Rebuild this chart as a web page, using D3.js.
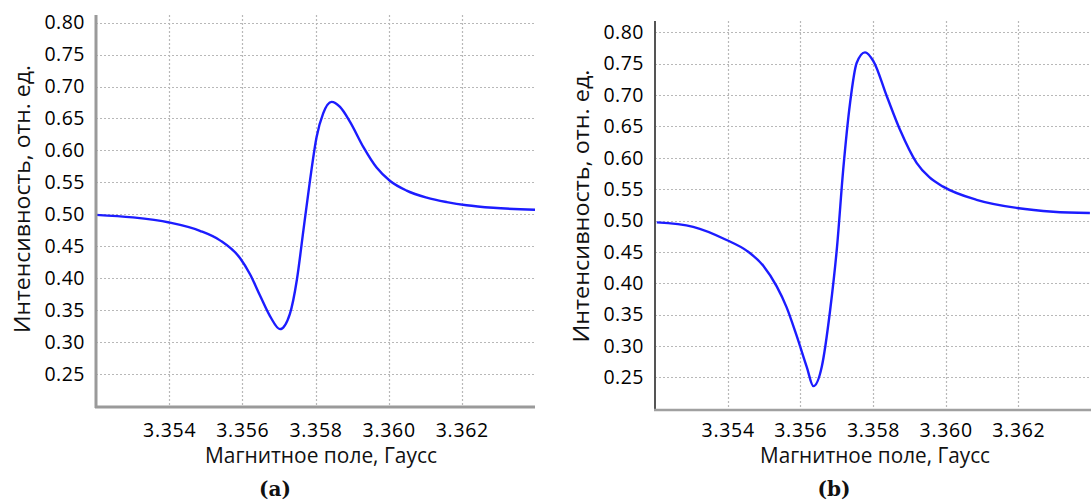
<!DOCTYPE html>
<html>
<head>
<meta charset="utf-8">
<script src="https://cdn.jsdelivr.net/npm/d3@7"></script>
<style>
  html, body { margin: 0; padding: 0; background: #fff; }
  svg { display: block; }
</style>
</head>
<body>
<svg id="chart" width="1091" height="502"></svg>
<script>
// ---- data ----
const xTicks = [3.354, 3.356, 3.358, 3.360, 3.362];
const yTicks = [0.25, 0.30, 0.35, 0.40, 0.45, 0.50, 0.55, 0.60, 0.65, 0.70, 0.75, 0.80];
const xLabel = "Магнитное поле, Гаусс";
const yLabel = "Интенсивность, отн. ед.";
const panelLabels = ["(a)", "(b)"];

const fieldA = [3.3520, 3.3530, 3.3540, 3.35484, 3.35539, 3.35594, 3.35621, 3.35648, 3.35676, 3.35703,
                3.35730, 3.35749, 3.35767, 3.35785, 3.35803, 3.35821, 3.35844, 3.35867, 3.35894, 3.35931,
                3.35967, 3.36004, 3.36049, 3.36104, 3.36159, 3.36213, 3.36286, 3.3640];
const intensityA = [0.499, 0.495, 0.487, 0.474, 0.459, 0.431, 0.406, 0.373, 0.340, 0.320,
                    0.344, 0.397, 0.475, 0.553, 0.621, 0.658, 0.676, 0.668, 0.645, 0.605,
                    0.573, 0.552, 0.537, 0.526, 0.519, 0.514, 0.510, 0.507];

const fieldB = [3.35205, 3.35305, 3.35397, 3.35452, 3.35498, 3.35535, 3.35562, 3.35590, 3.35618, 3.35636,
                3.35659, 3.35682, 3.35701, 3.35718, 3.35737, 3.35755, 3.35778, 3.35801, 3.35838, 3.35874,
                3.35920, 3.35955, 3.35993, 3.36085, 3.36196, 3.36296, 3.36397];
const intensityB = [0.497, 0.490, 0.469, 0.452, 0.428, 0.395, 0.362, 0.316, 0.266, 0.236,
                    0.267, 0.357, 0.458, 0.581, 0.688, 0.751, 0.768, 0.754, 0.698, 0.645,
                    0.592, 0.569, 0.554, 0.533, 0.520, 0.514, 0.512];

// ---- layout ----
const panels = [
  { field: fieldA, intensity: intensityA, label: panelLabels[0],
    x0: 96, x1: 535, yTop: 15, yBot: 407, yDom: [0.198, 0.812],
    yAxisColor: "#9a9a9a", yAxisWidth: 3, xAxisColor: "#9a9a9a", xAxisWidth: 3,
    yTitleCx: 199, yTitleBase: 29.5, yTitleLen: 268, xTitleCx: 321, xTitleLen: 232, labelCx: 275 },
  { field: fieldB, intensity: intensityB, label: panelLabels[1],
    x0: 655, x1: 1091, yTop: 21, yBot: 410, yDom: [0.198, 0.818],
    yAxisColor: "#555", yAxisWidth: 2, xAxisColor: "#a0a0a0", xAxisWidth: 2.5,
    yTitleCx: 206, yTitleBase: 589, yTitleLen: 273, xTitleCx: 875, xTitleLen: 230, labelCx: 834 }
];

const svg = d3.select("#chart");

panels.forEach(p => {
  const x = d3.scaleLinear().domain([3.352, 3.364]).range([p.x0, p.x1]);
  const y = d3.scaleLinear().domain(p.yDom).range([p.yBot, p.yTop]);
  const g = svg.append("g");

  // grid
  g.append("g").selectAll("line").data(yTicks).join("line")
    .attr("x1", p.x0).attr("x2", p.x1)
    .attr("y1", d => Math.round(y(d)) + 0.5).attr("y2", d => Math.round(y(d)) + 0.5)
    .attr("stroke", "#b8b8b8").attr("stroke-width", 1.2).attr("stroke-dasharray", "2,2");
  g.append("g").selectAll("line").data(xTicks).join("line")
    .attr("x1", d => Math.round(x(d)) + 0.5).attr("x2", d => Math.round(x(d)) + 0.5)
    .attr("y1", p.yTop).attr("y2", p.yBot)
    .attr("stroke", "#b8b8b8").attr("stroke-width", 1.2).attr("stroke-dasharray", "2,2");

  // curve
  const data = p.field.map((f, i) => [f, p.intensity[i]]);
  g.append("path").datum(data)
    .attr("fill", "none").attr("stroke", "#1c1cff").attr("stroke-width", 2.4)
    .attr("stroke-linejoin", "round")
    .attr("d", d3.line().x(d => x(d[0])).y(d => y(d[1])).curve(d3.curveMonotoneX));

  // y axis
  const ya = g.append("g").attr("transform", `translate(${p.x0},0)`)
    .call(d3.axisLeft(y).tickValues(yTicks).tickFormat(d3.format(".2f")).tickSize(0).tickPadding(11));
  ya.select(".domain").remove();
  ya.selectAll("text").attr("font-size", 19.5).attr("font-family", "Open Sans").attr("letter-spacing", "0.5px").attr("fill", "#000");
  g.append("line").attr("x1", p.x0).attr("x2", p.x0).attr("y1", p.yTop).attr("y2", p.yBot + 1)
    .attr("stroke", p.yAxisColor).attr("stroke-width", p.yAxisWidth);

  // x axis
  const xa = g.append("g").attr("transform", `translate(0,${p.yBot})`)
    .call(d3.axisBottom(x).tickValues(xTicks).tickFormat(d3.format(".3f")).tickSize(0).tickPadding(423 - p.yBot));
  xa.select(".domain").remove();
  xa.selectAll("text").attr("font-size", 19.5).attr("font-family", "Open Sans").attr("letter-spacing", "0.7px").attr("fill", "#000");
  g.append("line").attr("x1", p.x0 - 1).attr("x2", p.x1).attr("y1", p.yBot).attr("y2", p.yBot)
    .attr("stroke", p.xAxisColor).attr("stroke-width", p.xAxisWidth);

  // titles
  g.append("text").attr("x", p.xTitleCx).attr("y", 463)
    .attr("text-anchor", "middle").attr("font-family", "Open Sans").attr("font-size", 21)
    .attr("textLength", p.xTitleLen).attr("lengthAdjust", "spacingAndGlyphs").attr("fill", "#111")
    .text(xLabel);
  g.append("text").attr("transform", `translate(${p.yTitleBase},${p.yTitleCx}) rotate(-90)`)
    .attr("text-anchor", "middle").attr("font-family", "Open Sans").attr("font-size", 21)
    .attr("textLength", p.yTitleLen).attr("lengthAdjust", "spacingAndGlyphs").attr("fill", "#111")
    .text(yLabel);
  g.append("text").attr("x", p.labelCx).attr("y", 496)
    .attr("text-anchor", "middle").attr("font-family", "DejaVu Serif").attr("font-weight", "bold")
    .attr("font-size", 20).attr("fill", "#111").text(p.label);
});
</script>
</body>
</html>
